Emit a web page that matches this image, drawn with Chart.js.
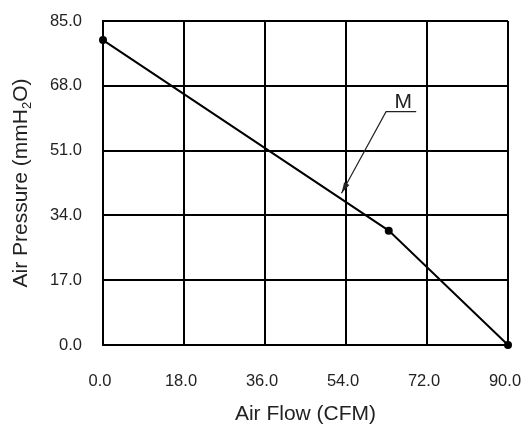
<!DOCTYPE html>
<html>
<head>
<meta charset="utf-8">
<script src="https://cdn.jsdelivr.net/npm/chart.js@4"></script>
<style>
    html, body { margin: 0; padding: 0; background: #fff; }
    #wrap { width: 528px; height: 425px; }
</style>
</head>
<body>
<div id="wrap"><canvas id="pqChart"></canvas></div>
<script>
// Curve data
const airFlow = [0, 63.5, 90];
const airPressure = [80, 30, 0];
const flowTicks = [0, 18, 36, 54, 72, 90];
const pressureTicks = [0, 17, 34, 51, 68, 85];
const curveName = 'M';

// where the "M" callout sits, in data units
const calloutText = { x: 66.7, y: 64.1 };
const calloutBar = { from: 62.9, to: 69.6, y: 61.2 };
const calloutTip = { x: 53.0, y: 39.8 };

const fontFamily = '"Liberation Sans", Arial, sans-serif';
const textColor = '#222';

const points = airFlow.map((f, i) => ({ x: f, y: airPressure[i] }));

// y axis title (with subscript 2) and the M callout
const extras = {
    id: 'extras',
    afterDraw(chart) {
        const { ctx, chartArea, scales: { x, y } } = chart;

        // callout
        ctx.save();
        ctx.strokeStyle = textColor;
        ctx.fillStyle = textColor;
        ctx.lineWidth = 1.2;
        const bx0 = x.getPixelForValue(calloutBar.from);
        const bx1 = x.getPixelForValue(calloutBar.to);
        const by = y.getPixelForValue(calloutBar.y);
        const tx = x.getPixelForValue(calloutTip.x);
        const ty = y.getPixelForValue(calloutTip.y);
        ctx.beginPath();
        ctx.moveTo(bx1, by);
        ctx.lineTo(bx0, by);
        ctx.lineTo(tx, ty);
        ctx.stroke();
        const ang = Math.atan2(ty - by, tx - bx0);
        const len = 11, half = 3;
        ctx.beginPath();
        ctx.moveTo(tx, ty);
        ctx.lineTo(tx - len * Math.cos(ang) + half * Math.sin(ang), ty - len * Math.sin(ang) - half * Math.cos(ang));
        ctx.lineTo(tx - len * Math.cos(ang) - half * Math.sin(ang), ty - len * Math.sin(ang) + half * Math.cos(ang));
        ctx.closePath();
        ctx.fill();
        ctx.font = '21px ' + fontFamily;
        ctx.textAlign = 'center';
        ctx.textBaseline = 'alphabetic';
        ctx.fillText(curveName, x.getPixelForValue(calloutText.x), y.getPixelForValue(calloutText.y) + 7.5);
        ctx.restore();

        // y title
        ctx.save();
        const big = '21px ' + fontFamily;
        const small = '13px ' + fontFamily;
        const parts = [['Air Pressure (mmH', big, 0], ['2', small, 4], ['O)', big, 0]];
        let total = 0;
        parts.forEach(p => { ctx.font = p[1]; total += ctx.measureText(p[0]).width; });
        ctx.translate(27, (chartArea.top + chartArea.bottom) / 2);
        ctx.rotate(-Math.PI / 2);
        ctx.fillStyle = textColor;
        ctx.textBaseline = 'alphabetic';
        ctx.textAlign = 'left';
        let cx = -total / 2;
        parts.forEach(p => {
            ctx.font = p[1];
            ctx.fillText(p[0], cx, p[2]);
            cx += ctx.measureText(p[0]).width;
        });
        ctx.restore();
    }
};

const ctx = document.getElementById('pqChart').getContext('2d');
new Chart(ctx, {
    type: 'scatter',
    data: {
        datasets: [{
            label: curveName,
            data: points,
            showLine: true,
            borderColor: '#000',
            backgroundColor: '#000',
            borderWidth: 2,
            pointRadius: 3,
            pointHoverRadius: 3,
            clip: false
        }]
    },
    options: {
        responsive: true,
        maintainAspectRatio: false,
        animation: false,
        events: [],
        layout: { padding: { top: 21, right: 20, left: 0, bottom: 0 } },
        plugins: {
            legend: { display: false },
            tooltip: { enabled: false }
        },
        scales: {
            x: {
                type: 'linear',
                min: flowTicks[0],
                max: flowTicks[flowTicks.length - 1],
                afterBuildTicks: (scale) => { scale.ticks = flowTicks.map(v => ({ value: v })); },
                afterFit: (scale) => {
                    scale.height = 80;
                    scale.paddingLeft = 0;
                    scale.paddingRight = 0;
                },
                ticks: {
                    padding: 27,
                    labelOffset: -3,
                    color: textColor,
                    font: { family: fontFamily, size: 16.5 },
                    maxRotation: 0,
                    callback: (v) => v.toFixed(1)
                },
                grid: { color: '#000', lineWidth: 2, drawTicks: false },
                border: { color: '#000', width: 2 },
                title: {
                    display: true,
                    text: 'Air Flow (CFM)',
                    color: textColor,
                    font: { family: fontFamily, size: 21, lineHeight: 1 },
                    padding: { top: 0, bottom: 0 }
                }
            },
            y: {
                type: 'linear',
                min: pressureTicks[0],
                max: pressureTicks[pressureTicks.length - 1],
                afterBuildTicks: (scale) => { scale.ticks = pressureTicks.map(v => ({ value: v })); },
                afterFit: (scale) => {
                    scale.width = 103;
                    scale.paddingTop = 0;
                    scale.paddingBottom = 0;
                },
                ticks: {
                    padding: 21,
                    color: textColor,
                    font: { family: fontFamily, size: 16.5 },
                    callback: (v) => v.toFixed(1)
                },
                grid: { color: '#000', lineWidth: 2, drawTicks: false },
                border: { color: '#000', width: 2 }
            }
        }
    },
    plugins: [extras]
});
</script>
</body>
</html>
